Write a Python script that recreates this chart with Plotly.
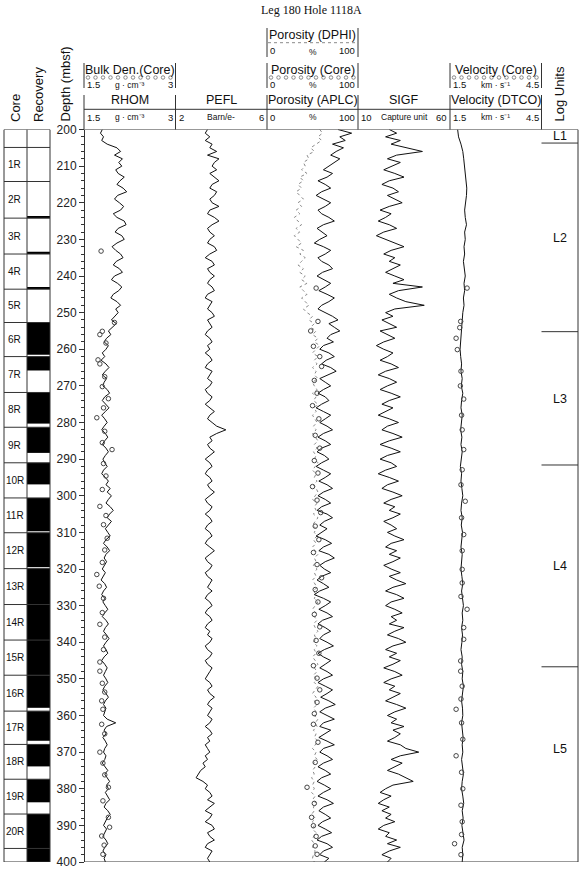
import plotly.graph_objects as go

W, H = 582, 874
def X(px): return px / W
def Y(py): return 1 - py / H

Y_TOP_PX, Y_BOT_PX = 129.5, 862.0
DEPTH_RANGE = [400, 200]

# ---------------- data ----------------
depth_log = list(range(200, 401))
depth_dtco = list(range(200, 401, 2))

rhom = [
    1.80, 1.77, 1.82, 1.79, 1.88, 2.04, 2.10, 2.00, 2.13, 2.07,
    2.12, 2.02, 2.06, 2.16, 2.09, 2.04, 2.14, 2.20, 2.05, 2.00,
    2.08, 2.15, 2.10, 1.98, 2.04, 2.16, 2.19, 2.06, 2.01, 2.12,
    2.16, 2.04, 1.96, 2.02, 2.10, 2.14, 2.03, 1.98, 2.08, 2.13,
    2.00, 1.95, 2.05, 2.12, 2.07, 1.98, 1.94, 2.04, 2.10, 2.02,
    2.06, 2.00, 1.95, 2.03, 1.97, 1.90, 1.94, 1.87, 1.83, 1.90,
    1.86, 1.80, 1.84, 1.78, 1.86, 1.91, 1.85, 1.80, 1.87, 1.83,
    1.81, 1.88, 1.92, 1.84, 1.80, 1.86, 1.91, 1.85, 1.79, 1.84,
    1.88, 1.83, 1.79, 1.85, 1.89, 1.84, 1.80, 1.86, 1.90, 1.85,
    1.81, 1.84, 1.88, 1.82, 1.79, 1.85, 1.90, 1.86, 1.93, 1.88,
    1.95, 1.90, 1.86, 1.93, 1.98, 1.92, 1.88, 1.95, 1.90, 1.85,
    1.89, 1.93, 1.86, 1.82, 1.88, 1.92, 1.86, 1.83, 1.87, 1.84,
    1.80, 1.85, 1.82, 1.78, 1.84, 1.87, 1.82, 1.79, 1.84, 1.81,
    1.85, 1.89, 1.84, 1.80, 1.86, 1.90, 1.85, 1.82, 1.87, 1.91,
    1.86, 1.82, 1.86, 1.89, 1.83, 1.79, 1.84, 1.88, 1.85, 1.82,
    1.86, 1.89, 1.84, 1.81, 1.86, 1.90, 1.85, 1.82, 1.86, 1.84,
    1.82, 1.88, 2.02, 1.87, 1.83, 1.86, 1.81, 1.85, 1.88, 1.84,
    1.82, 1.86, 1.84, 1.80, 1.85, 1.89, 1.84, 1.88, 1.92, 1.87,
    1.90, 1.85, 1.88, 1.92, 1.86, 1.83, 1.89, 1.93, 1.88, 1.85,
    1.82, 1.87, 1.84, 1.81, 1.86, 1.89, 1.84, 1.81, 1.86, 1.83,
    1.85,
]

pefl = [
    3.4, 3.3, 3.5, 3.3, 3.6, 3.5, 3.8, 3.4, 3.9, 3.7,
    3.6, 3.8, 3.5, 3.7, 3.9, 3.6, 3.5, 3.8, 3.7, 3.5,
    3.6, 3.9, 3.5, 3.4, 3.7, 3.9, 3.6, 3.4, 3.5, 3.7,
    3.5, 3.4, 3.7, 3.8, 3.5, 3.3, 3.6, 3.7, 3.4, 3.5,
    3.7, 3.5, 3.4, 3.6, 3.7, 3.4, 3.3, 3.6, 3.5, 3.4,
    3.6, 3.7, 3.4, 3.5, 3.6, 3.4, 3.3, 3.5, 3.6, 3.4,
    3.5, 3.3, 3.5, 3.6, 3.4, 3.3, 3.6, 3.5, 3.4, 3.6,
    3.5, 3.3, 3.4, 3.6, 3.5, 3.3, 3.5, 3.7, 3.5, 3.4,
    3.6, 3.8, 4.2, 3.8, 3.5, 3.6, 3.4, 3.5, 3.7, 3.5,
    3.3, 3.5, 3.6, 3.4, 3.3, 3.5, 3.6, 3.4, 3.5, 3.7,
    3.5, 3.3, 3.4, 3.6, 3.5, 3.3, 3.5, 3.6, 3.4, 3.3,
    3.5, 3.6, 3.4, 3.3, 3.5, 3.7, 3.5, 3.3, 3.4, 3.6,
    3.5, 3.3, 3.4, 3.6, 3.5, 3.4, 3.6, 3.4, 3.3, 3.5,
    3.6, 3.4, 3.3, 3.5, 3.6, 3.4, 3.3, 3.5, 3.4, 3.6,
    3.5, 3.3, 3.4, 3.6, 3.5, 3.3, 3.4, 3.6, 3.5, 3.4,
    3.3, 3.5, 3.6, 3.4, 3.5, 3.7, 3.5, 3.4, 3.6, 3.5,
    3.4, 3.6, 3.5, 3.3, 3.5, 3.6, 3.4, 3.5, 3.3, 3.4,
    3.5, 3.3, 3.4, 3.2, 3.3, 3.1, 3.0, 2.9, 3.2, 3.4,
    3.3, 3.5, 3.6, 3.4, 3.7, 3.5, 3.3, 3.6, 3.5, 3.3,
    3.6, 3.7, 3.4, 3.5, 3.7, 3.4, 3.3, 3.6, 3.5, 3.4,
    3.5,
]

aplc = [
    78, 93, 80, 86, 72, 84, 76, 70, 80, 74,
    68, 62, 72, 66, 56, 64, 70, 60, 54, 62,
    70, 64, 56, 60, 68, 74, 62, 55, 60, 66,
    58, 52, 62, 70, 64, 56, 60, 68, 72, 61,
    55, 62, 70, 64, 57, 66, 74, 68, 60, 56,
    64, 72, 78, 68, 74, 80, 70, 66, 73, 62,
    58, 68, 74, 65, 60, 70, 76, 66, 58, 64,
    70, 62, 56, 64, 68, 60, 54, 62, 70, 64,
    58, 66, 72, 62, 56, 64, 70, 60, 55, 63,
    68, 60, 54, 62, 70, 64, 57, 66, 72, 62,
    56, 64, 70, 60, 55, 66, 72, 63, 58, 66,
    60, 54, 64, 71, 62, 57, 68, 74, 64, 58,
    63, 70, 60, 55, 62, 68, 58, 52, 62, 70,
    64, 57, 66, 72, 61, 56, 64, 70, 62, 58,
    66, 73, 63, 56, 62, 70, 64, 58, 66, 72,
    62, 56, 64, 72, 66, 59, 68, 75, 64, 58,
    66, 74, 62, 58, 70, 64, 57, 66, 74, 62,
    58, 66, 72, 62, 56, 64, 70, 60, 55, 63,
    70, 62, 56, 66, 73, 62, 57, 64, 70, 61,
    56, 64, 71, 60, 55, 66, 72, 62, 58, 68,
    63,
]

dphi = [
    58, 61, 56, 60, 54, 48, 52, 44, 46, 40,
    42, 38, 44, 36, 40, 34, 38, 32, 36, 40,
    34, 38, 32, 36, 30, 34, 38, 32, 36, 30,
    34, 38, 32, 40, 36, 42, 38, 34, 40, 36,
    42, 38, 44, 36, 40, 44, 38, 42, 46, 40,
    44, 50, 46, 52, 48, 54, 50, 56, 52, 58,
    54, 50, 56, 52, 55, 50, 54, 52, 56, 50,
    52, 55, 50, 54, 51, 56, 52, 54, 50, 53,
    55, 51, 54, 50, 53, 56, 52, 55, 51, 54,
    52, 56, 53, 50, 54, 52, 55, 51, 54, 56,
    53, 50, 55, 52, 54, 51, 56, 53, 50, 54,
    52, 55, 51, 54, 50, 53, 56, 52, 54, 51,
    55, 52, 54, 50, 53, 55, 51, 54, 52, 56,
    53, 50, 54, 52, 55, 51, 53, 56, 52, 54,
    51, 55, 52, 54, 50, 53, 56, 52, 55, 51,
    54, 52, 56, 53, 50, 54, 52, 55, 51, 54,
    52, 56, 53, 55, 51, 54, 52, 56, 53, 50,
    54, 52, 55, 51, 53, 50, 52, 49, 52, 50,
    52, 49, 53, 50, 54, 51, 52, 49, 53, 50,
    52, 50, 54, 51, 49, 52, 50, 53, 51, 50,
    52,
]

sigf = [
    27, 31, 25, 33, 28, 36, 45, 31, 26, 33,
    28, 24, 30, 35, 27, 23, 29, 32, 26, 30,
    34, 27, 22, 28, 25, 21, 27, 31, 24, 20,
    25, 30, 35, 28, 24, 30, 27, 33, 29, 25,
    30, 35, 29, 45, 32, 27, 31, 36, 46, 30,
    25, 29, 23, 27, 31, 22, 26, 30, 24, 20,
    24, 29, 26, 22, 28, 32, 25, 21, 27, 31,
    26, 22, 28, 33, 27, 23, 29, 25, 21, 27,
    32, 26, 23, 29, 34, 27, 22, 28, 33, 26,
    22, 28, 31, 25, 21, 27, 32, 26, 23, 29,
    34, 28, 24, 30, 27, 33, 29, 24, 28, 31,
    26, 30, 35, 28, 25, 31, 27, 33, 29, 24,
    28, 33, 27, 31, 36, 29, 25, 31, 35, 28,
    25, 30, 34, 28, 31, 27, 35, 30, 26, 32,
    36, 29, 25, 31, 27, 33, 29, 24, 30, 34,
    28, 24, 30, 27, 33, 29, 25, 31, 36, 30,
    26, 31, 28, 35, 29, 33, 30, 26, 33, 36,
    43, 33, 28, 34, 30, 26, 32, 36, 40, 29,
    25, 22, 28, 24, 21, 27, 23, 28, 25, 30,
    24, 21, 27, 25, 31, 26, 33, 27, 23, 28,
    26,
]

dtco = [
    1.75, 1.78, 1.86, 1.92, 1.95, 1.98, 2.00, 2.02, 2.05, 2.04,
    2.02, 1.98, 2.00, 2.04, 1.98, 2.00, 1.96, 1.98, 1.94, 1.98,
    2.00, 1.96, 1.98, 1.94, 1.96, 1.92, 1.90, 1.88, 1.86, 1.84,
    1.83, 1.85, 1.88, 1.86, 1.90, 1.87, 1.92, 1.88, 1.86, 1.90,
    1.88, 1.85, 1.89, 1.86, 1.90, 1.87, 1.84, 1.88, 1.86, 1.89,
    1.92, 1.88, 1.86, 1.90, 1.87, 1.91, 1.88, 1.86, 1.90, 1.88,
    1.86, 1.89, 1.92, 1.88, 1.90, 1.94, 1.90, 1.92, 1.88, 1.91,
    1.89, 1.86, 1.90, 1.88, 1.92, 1.90, 1.94, 1.90, 1.88, 1.91,
    1.92, 1.88, 1.90, 1.93, 1.90, 1.92, 1.88, 1.91, 1.94, 1.90,
    1.88, 1.92, 1.95, 1.90, 1.93, 1.89, 1.92, 1.96, 1.90, 1.92,
    1.90,
]

# core measurements (depth mbsf, value)
core_den = [
    (233.2, 1.78), (252.7, 2.00), (255.1, 1.80), (256.0, 1.76), (258.3, 1.86),
    (262.9, 1.73), (264.0, 1.76), (267.5, 1.84), (270.2, 1.80), (273.5, 1.90),
    (276.0, 1.82), (278.7, 1.71), (282.4, 1.84), (285.5, 1.80), (287.4, 1.96),
    (291.2, 1.82), (294.6, 1.86), (298.3, 1.80), (302.9, 1.76), (305.4, 1.86),
    (307.9, 1.82), (311.6, 1.88), (314.8, 1.84), (318.2, 1.80), (321.5, 1.71),
    (324.7, 1.75), (328.0, 1.82), (331.9, 1.80), (335.1, 1.76), (338.6, 1.84),
    (342.0, 1.82), (345.4, 1.76), (347.9, 1.76), (351.2, 1.80), (353.6, 1.84),
    (356.0, 1.79), (358.3, 1.81), (362.4, 1.79), (365.0, 1.84), (370.0, 1.76),
    (373.0, 1.81), (376.2, 1.84), (379.6, 1.90), (383.3, 1.81), (387.8, 1.90),
    (390.5, 1.92), (392.9, 1.79), (395.4, 1.83), (397.9, 1.81),
]
core_por = [
    (243.3, 54), (252.4, 56), (255.0, 48), (259.2, 51), (262.0, 58), (264.7, 60),
    (268.5, 52), (272.0, 55), (275.4, 50), (279.0, 57), (283.5, 53), (287.0, 58),
    (290.4, 52), (293.8, 56), (297.5, 50), (301.2, 55), (304.6, 59), (308.3, 53),
    (312.0, 57), (315.5, 51), (318.8, 55), (322.4, 60), (325.6, 53), (329.0, 56),
    (332.4, 52), (335.8, 58), (339.5, 54), (343.0, 57), (346.4, 51), (349.8, 55),
    (353.0, 58), (356.4, 55), (359.5, 52), (362.4, 51), (367.3, 56), (372.8, 53),
    (379.6, 44), (384.0, 52), (387.8, 49), (390.1, 51), (393.0, 54), (395.6, 53),
    (397.9, 55),
]
core_vel = [
    (243.3, 2.06), (252.4, 1.85), (254.1, 1.82), (257.0, 1.70), (260.1, 1.74),
    (266.0, 1.86), (270.0, 1.84), (273.6, 1.95), (278.0, 1.88), (282.0, 1.90),
    (287.4, 1.95), (292.9, 1.90), (297.0, 1.86), (301.5, 2.00), (306.0, 1.88),
    (310.6, 1.95), (315.0, 1.90), (320.1, 1.90), (323.8, 1.90), (327.5, 1.86),
    (331.0, 2.06), (336.0, 1.95), (339.2, 1.95), (345.1, 1.85), (347.9, 1.85),
    (352.0, 1.90), (355.5, 1.86), (358.3, 1.70), (362.0, 1.88), (366.5, 1.92),
    (371.0, 1.70), (375.5, 1.88), (380.0, 1.92), (384.5, 1.86), (389.0, 1.90),
    (392.5, 1.88), (395.0, 1.65), (398.0, 1.86),
]

core_tops = [200.0, 204.9, 214.2, 224.2, 234.0, 243.6, 252.7, 262.0, 271.8, 281.3,
             291.0, 300.6, 310.1, 319.9, 329.7, 339.4, 349.0, 358.8, 367.9, 377.4,
             386.9, 396.3, 400.0]
core_names = ["", "1R", "2R", "3R", "4R", "5R", "6R", "7R", "8R", "9R", "10R",
              "11R", "12R", "13R", "14R", "15R", "16R", "17R", "18R", "19R", "20R", ""]
recovered = [
    (223.6, 224.2), (233.4, 234.0), (243.0, 243.6),
    (252.7, 261.5), (262.0, 265.8), (271.8, 280.3), (281.3, 288.3), (291.0, 296.9),
    (300.6, 309.7), (310.1, 319.5), (319.9, 329.7), (329.7, 339.4), (339.4, 349.0),
    (349.0, 357.9), (358.8, 366.9), (367.9, 373.9), (377.4, 383.7), (386.9, 396.3),
    (396.3, 400.0),
]
unit_bounds = [200.0, 203.7, 255.2, 291.6, 346.7, 400.0]
unit_names = ["L1", "L2", "L3", "L4", "L5"]
unit_label_depth = [201.9, 229.6, 273.5, 319.2, 369.2]

# ---------------- layout geometry (pixels) ----------------
tracks = [
    dict(x0=84, x1=175.5, rng=[1.5, 3], name="RHOM", lo="1.5", unit="g · cm⁻³", hi="3"),
    dict(x0=175.5, x1=267, rng=[2, 6], name="PEFL", lo="2", unit="Barn/e-", hi="6"),
    dict(x0=267, x1=358, rng=[0, 100], name="Porosity (APLC)", lo="0", unit="%", hi="100"),
    dict(x0=358, x1=450, rng=[10, 60], name="SIGF", lo="10", unit="Capture unit", hi="60"),
    dict(x0=450, x1=541.5, rng=[1.5, 4.5], name="Velocity (DTCO)", lo="1.5", unit="km · s⁻¹", hi="4.5"),
]
UNIT_X0, UNIT_X1 = 541.5, 578
CORE_X0, CORE_X1, REC_X1 = 4, 27, 50
AX = "#333333"
FONT = "Liberation Sans, Arial, sans-serif"

fig = go.Figure()
LINE = dict(color="#111111", width=1)
CIRC = dict(symbol="circle-open", size=4.5, color="#444444", line=dict(width=1))

fig.add_trace(go.Scatter(x=rhom, y=depth_log, mode="lines", line=LINE, xaxis="x", yaxis="y"))
fig.add_trace(go.Scatter(x=[v for d, v in core_den], y=[d for d, v in core_den], mode="markers",
                         marker=CIRC, xaxis="x", yaxis="y"))
fig.add_trace(go.Scatter(x=pefl, y=depth_log, mode="lines", line=LINE, xaxis="x2", yaxis="y"))
fig.add_trace(go.Scatter(x=dphi, y=depth_log, mode="lines",
                         line=dict(color="#8a8a8a", width=1, dash="dot"), xaxis="x3", yaxis="y"))
fig.add_trace(go.Scatter(x=aplc, y=depth_log, mode="lines", line=LINE, xaxis="x3", yaxis="y"))
fig.add_trace(go.Scatter(x=[v for d, v in core_por], y=[d for d, v in core_por], mode="markers",
                         marker=CIRC, xaxis="x3", yaxis="y"))
fig.add_trace(go.Scatter(x=sigf, y=depth_log, mode="lines", line=LINE, xaxis="x4", yaxis="y"))
fig.add_trace(go.Scatter(x=dtco, y=depth_dtco, mode="lines", line=LINE, xaxis="x5", yaxis="y"))
fig.add_trace(go.Scatter(x=[v for d, v in core_vel], y=[d for d, v in core_vel], mode="markers",
                         marker=CIRC, xaxis="x5", yaxis="y"))

# header legend circles (core rows) on a pixel canvas axis
legend_x, legend_y = [], []
for t in (tracks[0], tracks[2], tracks[4]):
    px = t["x0"] + 4
    while px < t["x1"] - 2:
        legend_x.append(px)
        legend_y.append(77.5)
        px += 7.5
fig.add_trace(go.Scatter(x=legend_x, y=legend_y, mode="markers",
                         marker=dict(symbol="circle-open", size=3.5, color="#888888", line=dict(width=1)),
                         xaxis="x6", yaxis="y12"))

layout = dict(
    template="none",
    width=W, height=H, margin=dict(l=0, r=0, t=0, b=0, pad=0, autoexpand=False), autosize=False,
    paper_bgcolor="white", plot_bgcolor="rgba(0,0,0,0)",
    showlegend=False, hovermode=False,
    font=dict(family=FONT, color="#111111"),
)
ydom = [Y(Y_BOT_PX), Y(Y_TOP_PX)]
for i, t in enumerate(tracks):
    key = "xaxis" if i == 0 else f"xaxis{i+1}"
    layout[key] = dict(domain=[X(t["x0"]), X(t["x1"])], range=t["rng"], visible=False,
                       anchor="y", fixedrange=True, automargin=False)
layout["xaxis6"] = dict(domain=[0, 1], range=[0, W], visible=False, anchor="y12", automargin=False)
layout["yaxis12"] = dict(domain=[0, 1], range=[H, 0], visible=False, anchor="x6", automargin=False)

tick_common = dict(range=DEPTH_RANGE, tick0=200, dtick=10, ticklen=5, tickwidth=1, tickcolor=AX,
                   showgrid=False, zeroline=False, showline=True, linecolor=AX, linewidth=1,
                   fixedrange=True, automargin=False)
layout["yaxis"] = dict(domain=ydom, anchor="free", position=X(84), ticks="outside",
                       showticklabels=True, tickfont=dict(family=FONT, size=12, color="#222222"),
                       minor=dict(dtick=2, ticklen=3, ticks="outside", tickcolor=AX, showgrid=False),
                       **tick_common)
overlays = [(84, "inside")]
for xb in (175.5, 267, 358, 450):
    overlays += [(xb, "outside"), (xb, "inside")]
overlays.append((UNIT_X0, "inside"))
for j, (xb, side) in enumerate(overlays):
    layout[f"yaxis{j+2}"] = dict(overlaying="y", anchor="free", position=X(xb), ticks=side,
                                 showticklabels=False,
                                 minor=dict(dtick=2, ticklen=3, ticks=side, tickcolor=AX, showgrid=False),
                                 **tick_common)
fig.update_layout(**layout)

shapes = []
def pline(x0, y0, x1, y1, color=AX, width=1, dash=None):
    ln = dict(color=color, width=width)
    if dash:
        ln["dash"] = dash
    shapes.append(dict(type="line", xref="paper", yref="paper", x0=X(x0), y0=Y(y0), x1=X(x1), y1=Y(y1), line=ln))

shapes.append(dict(type="line", xref="paper", yref="y", x0=X(84), x1=X(UNIT_X1), y0=200, y1=200, line=dict(color=AX, width=1)))
shapes.append(dict(type="line", xref="paper", yref="y", x0=X(84), x1=X(UNIT_X1), y0=400, y1=400, line=dict(color=AX, width=1)))
shapes.append(dict(type="line", xref="paper", yref="y", x0=X(UNIT_X1), x1=X(UNIT_X1), y0=200, y1=400, line=dict(color=AX, width=1)))
for b in unit_bounds[1:-1]:
    shapes.append(dict(type="line", xref="paper", yref="y", x0=X(UNIT_X0), x1=X(UNIT_X1), y0=b, y1=b,
                       line=dict(color=AX, width=1)))

for top, bot in recovered:
    shapes.append(dict(type="rect", xref="paper", yref="y", x0=X(CORE_X1), x1=X(REC_X1), y0=top, y1=bot,
                       fillcolor="black", line=dict(width=0)))
shapes.append(dict(type="rect", xref="paper", yref="y", x0=X(CORE_X0), x1=X(REC_X1), y0=200, y1=400,
                   line=dict(color=AX, width=1)))
shapes.append(dict(type="line", xref="paper", yref="y", x0=X(CORE_X1), x1=X(CORE_X1), y0=200, y1=400,
                   line=dict(color=AX, width=1)))
for b in core_tops[1:-1]:
    shapes.append(dict(type="line", xref="paper", yref="y", x0=X(CORE_X0), x1=X(REC_X1), y0=b, y1=b,
                       line=dict(color=AX, width=1)))

for t in tracks:
    pline(t["x0"], 95, t["x0"], Y_TOP_PX)
pline(tracks[-1]["x1"], 95, tracks[-1]["x1"], Y_TOP_PX)
pline(84, 109.3, tracks[-1]["x1"], 109.3)
for t in (tracks[0], tracks[2], tracks[4]):
    pline(t["x0"], 63, t["x0"], 88)
    pline(t["x1"], 63, t["x1"], 88)
pline(267, 28, 267, 57)
pline(358, 28, 358, 57)
pline(268, 42.7, 357, 42.7, color="#8a8a8a", dash="dot")

ann = []
def txt(x, y, s, size=12, xanchor="center", yanchor="middle", angle=0, family=FONT, yref="paper"):
    ann.append(dict(x=X(x), y=(Y(y) if yref == "paper" else y), xref="paper", yref=yref, text=s,
                    showarrow=False, xanchor=xanchor, yanchor=yanchor, textangle=angle,
                    font=dict(family=family, size=size, color="#111111"), borderpad=0))

txt(311, 10, "Leg 180 Hole 1118A", size=12, family="Liberation Serif, Times New Roman, serif")
txt(16, 123, "Core", size=13, yanchor="bottom", angle=-90)
txt(38.5, 123, "Recovery", size=13, yanchor="bottom", angle=-90)
txt(65, 123, "Depth (mbsf)", size=13, yanchor="bottom", angle=-90)
txt(559, 123, "Log Units", size=13, yanchor="bottom", angle=-90)

for t in tracks:
    cx = (t["x0"] + t["x1"]) / 2
    txt(cx, 100, t["name"], size=12.5)
    txt(t["x0"] + 2, 117, t["lo"], size=9.5, xanchor="left")
    txt(cx, 117.5, t["unit"], size=8.5)
    txt(t["x1"] - 2, 117, t["hi"], size=9.5, xanchor="right")

for t, lab in ((tracks[0], "Bulk Den.(Core)"), (tracks[2], "Porosity (Core)"), (tracks[4], "Velocity (Core)")):
    cx = (t["x0"] + t["x1"]) / 2
    txt(cx, 70, lab, size=12.5)
    txt(t["x0"] + 2, 85, t["lo"], size=9.5, xanchor="left")
    txt(cx, 85.5, t["unit"], size=8.5)
    txt(t["x1"] - 2, 85, t["hi"], size=9.5, xanchor="right")

t = tracks[2]
txt((t["x0"] + t["x1"]) / 2, 35, "Porosity (DPHI)", size=12.5)
txt(t["x0"] + 2, 51, "0", size=9.5, xanchor="left")
txt((t["x0"] + t["x1"]) / 2, 51.5, "%", size=8.5)
txt(t["x1"] - 2, 51, "100", size=9.5, xanchor="right")

for name, top, bot in zip(core_names, core_tops[:-1], core_tops[1:]):
    if name:
        txt(14.5, (top + bot) / 2, name, size=10, yref="y")
for name, d in zip(unit_names, unit_label_depth):
    txt((UNIT_X0 + UNIT_X1) / 2, d, name, size=12.5, yref="y")

fig.update_layout(shapes=shapes, annotations=ann)

fig.write_html("out.html", config={"displayModeBar": False, "staticPlot": True},
               post_script="document.documentElement.style.margin='0';document.body.style.margin='0';"
                           "document.body.style.overflow='hidden';")
